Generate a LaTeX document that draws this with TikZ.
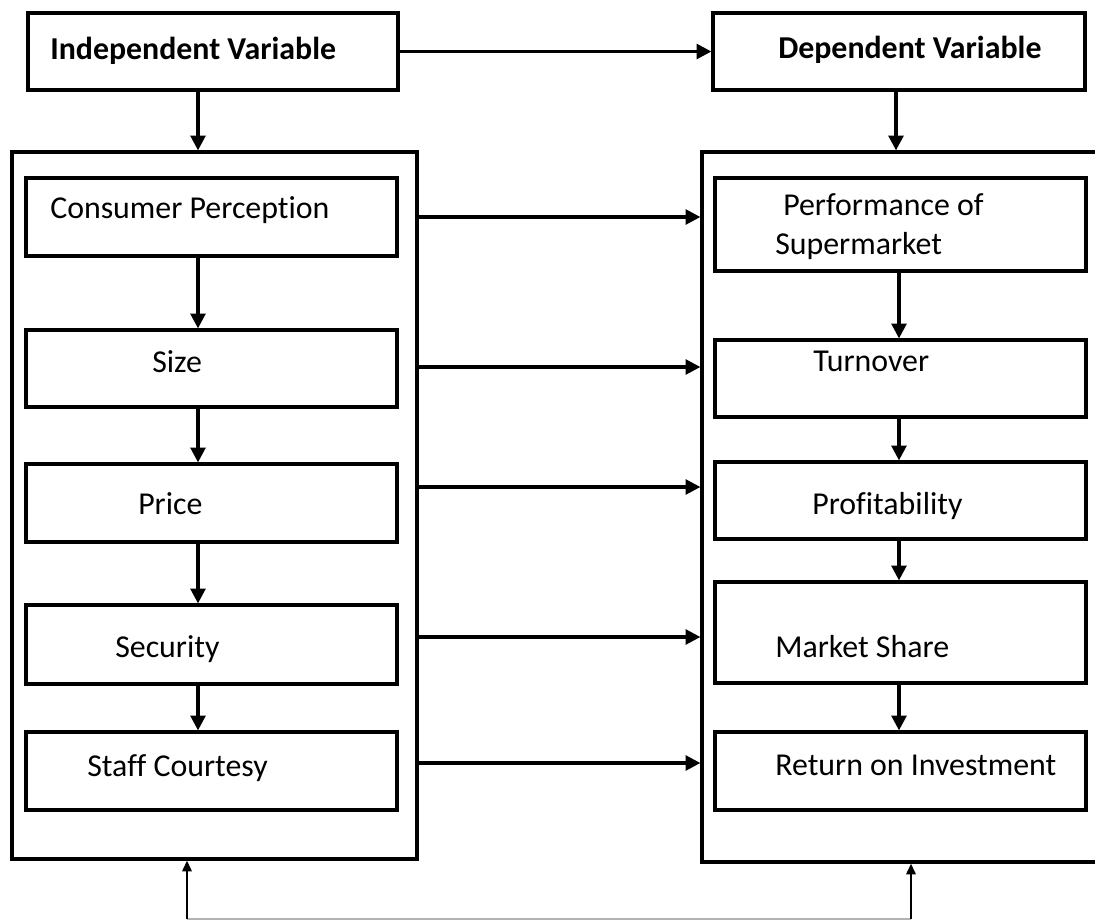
\documentclass[tikz,border=0pt]{standalone}
\usepackage{fontspec}
\setmainfont[Ligatures={NoCommon}]{Carlito}
\usetikzlibrary{arrows.meta}

\begin{document}
\begin{tikzpicture}[x=0.75pt,y=-0.75pt,
    box/.style={draw,line width=2.4pt,inner sep=0pt},
    inbox/.style={box,minimum width=278.25pt},
    txt/.style={anchor=base west,inner sep=0pt,font=\fontsize{23.9}{28}\selectfont},
    arr/.style={line width=2.4pt,-{Triangle[length=11pt,width=11pt]}},
    thinarr/.style={line width=1.5pt,-{Triangle[length=8pt,width=7pt]}}]

    \useasboundingbox (0,0) rectangle (1095,921);

    % header boxes
    \node[box,minimum width=277.5pt,minimum height=57.75pt] (iv) at (213,51.5) {};
    \node[box,minimum width=279pt,minimum height=57.75pt] (dv) at (899,51.5) {};
    \node[txt,font=\fontsize{23.9}{28}\selectfont\bfseries] (t-iv) at (50,59) {Independent Variable};
    \node[txt,font=\fontsize{23.9}{28}\selectfont\bfseries] (t-dv) at (778,58) {Dependent Variable};

    % outer frames
    \node[box,minimum width=303.75pt,minimum height=530.25pt] (lout) at (214.5,505.5) {};
    \node[box,minimum width=317.25pt,minimum height=532.5pt] (rout) at (913.5,507) {};

    % left column
    \foreach \n/\y/\h in {cp/217/58.5, size/368.5/57.75, price/503/58.5, sec/644.5/59.25, staff/771/58.5}
      \node[inbox,minimum height=\h pt] (\n) at (211.5,\y) {};
    \node[txt] (t-cp) at (50,218) {Consumer Perception};
    \node[txt] (t-size) at (152,372) {Size};
    \node[txt] (t-price) at (138,514) {Price};
    \node[txt] (t-sec) at (115,657) {Security};
    \node[txt] (t-staff) at (87,776) {Staff Courtesy};

    % right column
    \foreach \n/\y/\h in {perf/224.5/69.75, turn/378.5/57.75, prof/500.5/57.75, ms/632.5/75.75, roi/771/58.5}
      \node[inbox,minimum height=\h pt] (\n) at (900.5,\y) {};
    \node[txt] (t-perf1) at (783,215) {Performance of};
    \node[txt] (t-perf2) at (775,254) {Supermarket};
    \node[txt] (t-turn) at (813,371) {Turnover};
    \node[txt] (t-prof) at (812,514) {Profitability};
    \node[txt] (t-ms) at (775,657) {Market Share};
    \node[txt] (t-roi) at (775,775) {Return on Investment};

    % arrows
    \draw[arr] (iv.east) -- (dv.west);
    \draw[arr] (iv.south -| 198,0) -- (lout.north -| 198,0);
    \draw[arr] (dv.south -| 896,0) -- (rout.north -| 896,0);
    \foreach \a/\b in {cp/size, size/price, price/sec, sec/staff}
      \draw[arr] (\a.south -| 198,0) -- (\b.north -| 198,0);
    \foreach \a/\b in {perf/turn, turn/prof, prof/ms, ms/roi}
      \draw[arr] (\a.south -| 899,0) -- (\b.north -| 899,0);
    \foreach \y in {217,367,487,637,763}
      \draw[arr] (lout.east |- 0,\y) -- (rout.west |- 0,\y);

    % feedback line
    \coordinate (bl) at (187,919);
    \coordinate (br) at (911,919);
    \draw[gray!60,line width=1.1pt] (bl) -- (br);
    \draw[thinarr] (bl) -- (lout.south -| bl);
    \draw[thinarr] (br) -- (rout.south -| br);
\end{tikzpicture}
\end{document}
